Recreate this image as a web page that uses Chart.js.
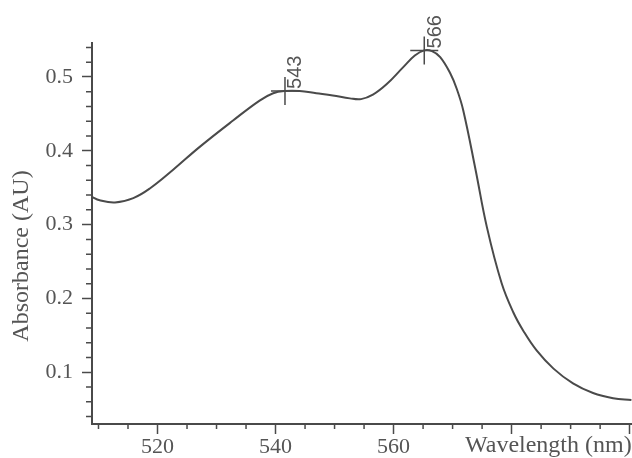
<!DOCTYPE html>
<html>
<head>
<meta charset="utf-8">
<script src="https://cdn.jsdelivr.net/npm/chart.js@4.4.1/dist/chart.umd.min.js"></script>
<style>
html, body { margin: 0; padding: 0; background: #fff; overflow: hidden; }
canvas { display: block; }
</style>
</head>
<body>
<canvas id="chart" width="632" height="458"></canvas>
<script>
// Absorbance spectrum, values
const wavelengths = [508.8, 510.2, 512.8, 515.9, 518.7, 522.6, 527.1, 532.8, 537.3, 539.6,
    541.6, 544.1, 546.9, 549.7, 552.6, 554.5, 556.5, 558.8, 561.6, 563.6,
    565.2, 566.5, 567.9, 569.6, 570.7, 571.8, 573.9, 575.8,
    578.3, 580.3, 582.0, 584.2, 587.1, 590.4, 593.8, 597.2, 600.3];
const absorbance = [0.338, 0.333, 0.330, 0.336, 0.349, 0.374, 0.405, 0.441, 0.468, 0.478,
    0.481, 0.481, 0.478, 0.475, 0.471, 0.470, 0.476, 0.490, 0.513, 0.529,
    0.536, 0.535, 0.527, 0.505, 0.484, 0.455, 0.374, 0.297,
    0.221, 0.181, 0.156, 0.130, 0.105, 0.085, 0.072, 0.065, 0.0625];

const peakWavelengths = [541.6, 565.2];
const peakAbsorbance = [0.481, 0.536];
const peakLabels = ['543', '566'];

const xLabelled = [520, 540, 560];
const xTitle = 'Wavelength (nm)';
const yTitle = 'Absorbance (AU)';

const INK = '#4a4a4a';
const TEXT = '#555555';
const SERIF = '"Liberation Serif", "DejaVu Serif", serif';

// minor ticks, axis titles and peak labels
const decorPlugin = {
    id: 'decor',
    afterDraw(chart) {
        const { ctx, chartArea } = chart;
        const x = chart.scales.x;
        const y = chart.scales.y;
        ctx.save();
        ctx.strokeStyle = INK;
        ctx.lineWidth = 1.5;
        ctx.beginPath();
        for (let v = 510; v <= 600; v += 5) {
            if (v % 20 === 0) continue;
            const px = x.getPixelForValue(v);
            if (px < chartArea.left || px > chartArea.right) continue;
            ctx.moveTo(px, chartArea.bottom);
            ctx.lineTo(px, chartArea.bottom + 5);
        }
        for (let i = 2; i <= 27; i++) {
            if (i % 5 === 0) continue;
            const py = y.getPixelForValue(i / 50);
            if (py < chartArea.top || py > chartArea.bottom) continue;
            ctx.moveTo(chartArea.left, py);
            ctx.lineTo(chartArea.left - 6, py);
        }
        ctx.stroke();

        ctx.fillStyle = TEXT;
        ctx.font = '24px ' + SERIF;
        ctx.textBaseline = 'middle';
        ctx.textAlign = 'left';
        ctx.fillText(xTitle, 465, 446);

        ctx.save();
        ctx.translate(22, 256);
        ctx.rotate(-Math.PI / 2);
        ctx.textAlign = 'center';
        ctx.fillText(yTitle, 0, 0);
        ctx.restore();

        const meta = chart.getDatasetMeta(1);
        ctx.font = '20px "Liberation Sans", Arial, sans-serif';
        meta.data.forEach((pt, i) => {
            ctx.save();
            ctx.translate(pt.x + 11, pt.y - 2);
            ctx.rotate(-Math.PI / 2);
            ctx.textAlign = 'left';
            ctx.textBaseline = 'middle';
            ctx.fillText(peakLabels[i], 0, 0);
            ctx.restore();
        });
        ctx.restore();
    }
};

new Chart(document.getElementById('chart'), {
    type: 'line',
    data: {
        datasets: [{
            data: wavelengths.map((w, i) => ({ x: w, y: absorbance[i] })),
            borderColor: INK,
            borderWidth: 2,
            pointRadius: 0,
            tension: 0.4,
            fill: false,
        }, {
            data: peakWavelengths.map((w, i) => ({ x: w, y: peakAbsorbance[i] })),
            showLine: false,
            pointStyle: 'cross',
            pointRadius: 14,
            pointBorderWidth: 1.5,
            pointBorderColor: INK,
            clip: false,
        }],
    },
    options: {
        responsive: false,
        animation: false,
        devicePixelRatio: 1,
        layout: { autoPadding: false, padding: { top: 43, right: 0, left: 0, bottom: 0 } },
        plugins: { legend: { display: false }, tooltip: { enabled: false } },
        scales: {
            x: {
                type: 'linear',
                min: 508.9,
                max: 600.4,
                afterFit: (s) => { s.height = 34; s.paddingLeft = 0; s.paddingRight = 0; },
                border: { display: true, color: INK, width: 2 },
                grid: { drawOnChartArea: false, drawTicks: true, tickLength: 10, tickColor: INK, tickWidth: 1.5 },
                ticks: {
                    stepSize: 20,
                    includeBounds: false,
                    autoSkip: false,
                    maxRotation: 0,
                    padding: 0,
                    color: TEXT,
                    font: { family: SERIF, size: 22 },
                    callback: (v) => (xLabelled.includes(v) ? String(v) : ''),
                },
            },
            y: {
                min: 0.03,
                max: 0.546,
                afterFit: (s) => { s.width = 92; s.paddingTop = 0; s.paddingBottom = 0; },
                border: { display: true, color: INK, width: 2 },
                grid: { drawOnChartArea: false, drawTicks: true, tickLength: 10, tickColor: INK, tickWidth: 1.5 },
                ticks: {
                    stepSize: 0.1,
                    includeBounds: false,
                    padding: 9,
                    color: TEXT,
                    font: { family: SERIF, size: 22 },
                    callback: (v) => v.toFixed(1),
                },
            },
        },
    },
    plugins: [decorPlugin],
});
</script>
</body>
</html>
